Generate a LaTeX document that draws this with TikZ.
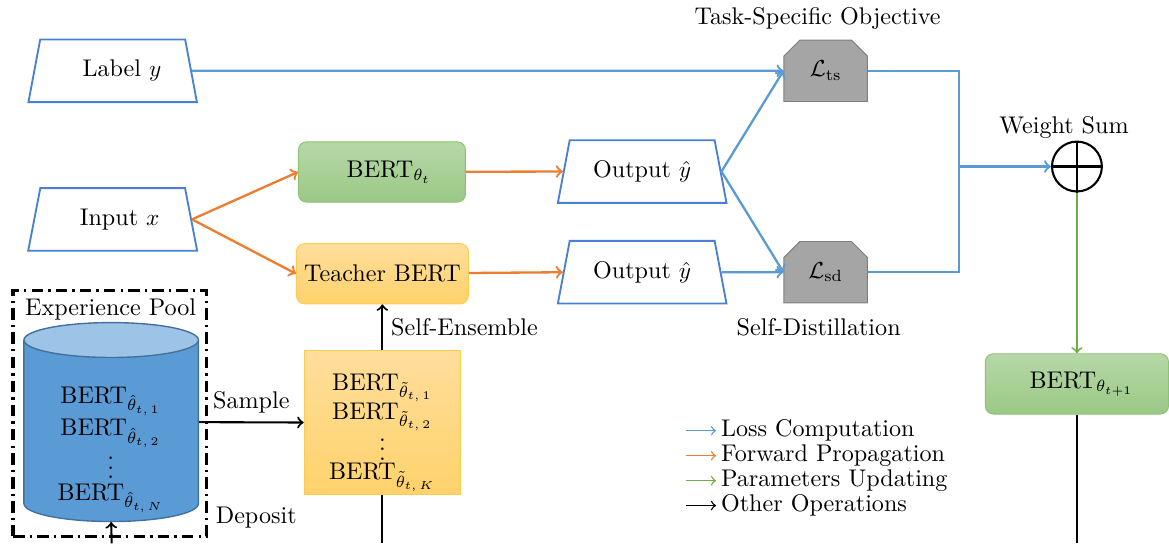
\documentclass[tikz,border=0pt]{standalone}
\usepackage{xcolor}
\usepackage{tikz}
\usetikzlibrary{shapes.geometric,shapes.misc}
\usetikzlibrary{arrows}

\definecolor{lossblue}{HTML}{5B9BD5}
\definecolor{fwdorange}{HTML}{ED7D31}
\definecolor{updgreen}{HTML}{70AD47}
\definecolor{trapblue}{HTML}{4A7FD6}
\definecolor{greentop}{HTML}{B6D8A7}
\definecolor{greenbot}{HTML}{9BC886}
\definecolor{greenedge}{HTML}{8DC173}
\definecolor{orangetop}{HTML}{FFDE9C}
\definecolor{orangebot}{HTML}{FFD26B}
\definecolor{orangeedge}{HTML}{FFCB4F}
\definecolor{lossgray}{HTML}{A5A5A5}
\definecolor{lossedge}{HTML}{7F7F7F}
\definecolor{poolbody}{HTML}{5B9BD5}
\definecolor{pooltop}{HTML}{9DC3E6}
\definecolor{pooledge}{HTML}{41719C}

\begin{document}
\begin{tikzpicture}[x=0.43pt,y=-0.43pt,font=\fontsize{10.4pt}{12.5pt}\selectfont]
            \tikzset{Data/.style={%
                    shape=trapezium,%
                    draw=trapblue,%
                    line width=0.8pt,%
                    trapezium left angle=76,%
                    trapezium right angle=76,%
                    trapezium stretches=true,%
                    minimum width=73pt,%
                    minimum height=27pt,%
                },
                Student/.style={%
                    shape=rectangle,%
                    rounded corners=3.5pt,%
                    draw=greenedge,%
                    top color=greentop,%
                    bottom color=greenbot,%
                    minimum width=72pt,%
                    minimum height=26pt,%
                },
                Teacher/.style={%
                    shape=rectangle,%
                    rounded corners=3.5pt,%
                    draw=orangeedge,%
                    top color=orangetop,%
                    bottom color=orangebot,%
                    minimum width=72pt,%
                    minimum height=26pt,%
                },
                Loss/.style={%
                    shape=chamfered rectangle,%
                    chamfered rectangle corners={north west,north east},%
                    chamfered rectangle xsep=4pt,%
                    draw=lossedge,%
                    fill=lossgray,%
                    minimum width=36pt,%
                    minimum height=26.5pt,%
                },
                LossArrow/.style={->,draw=lossblue,line width=1pt},
                FwdArrow/.style={->,draw=fwdorange,line width=1pt},
                UpdArrow/.style={->,draw=updgreen,line width=0.8pt},
                OtherArrow/.style={->,draw=black,line width=0.9pt},
                Legend/.style={anchor=west,inner sep=2pt},
            }

                % inputs and the two BERTs
                \node[Data] (labely) at (113,71) {\hspace{8pt}Label $y$};
                \node[Data] (inputx) at (113,220) {\hspace{6pt}Input $x$};
                \node[Student] (bert) at (383,172.5) {\hspace{6pt}BERT$_{\theta_t}$};
                \node[Teacher] (teacher) at (383.5,274.5) {Teacher BERT};
                \node[Data] (outA) at (644,172) {Output $\hat{y}$};
                \node[Data] (outB) at (644,273) {Output $\hat{y}$};

                % losses
                \node[Loss] (Lts) at (828,71) {$\mathcal{L}_{\mathrm{ts}}$};
                \node[Loss] (Lsd) at (828,273) {$\mathcal{L}_{\mathrm{sd}}$};
                \node (tsLabel) at (820,19) {Task-Specific Objective};
                \node (sdLabel) at (821,328) {Self-Distillation};

                % weight sum and update
                \node[circle,draw=black,line width=0.9pt,minimum size=21.5pt,inner sep=0pt] (sum) at (1080,167) {};
                \draw[line width=0.9pt] (sum.north) -- (sum.south) (sum.west) -- (sum.east);
                \node (sumLabel) at (1067,128) {Weight Sum};
                \node[Student,minimum width=79pt] (next) at (1080,385) {\hspace{4pt}BERT$_{\theta_{t+1}}$};
                \coordinate (join) at (962,167);
                \coordinate (nextOut) at (1080,545);

                % experience pool
                \node[rectangle,draw=black,line width=1.4pt,dash pattern=on 5pt off 2.2pt on 1pt off 2.2pt,
                      minimum width=83.4pt,minimum height=106.2pt] (frame) at (110,414.5) {};
                \node (poolLabel) at (111,310) {Experience Pool};
                \node[inner sep=0pt,minimum width=75.3pt,minimum height=86pt] (pool) at (111.5,423) {};
                \filldraw[fill=poolbody,draw=pooledge,line width=0.6pt] (24,341) -- (24,505)
                    arc[start angle=180,end angle=0,x radius=87.5,y radius=18] -- (199,341);
                \filldraw[fill=pooltop,draw=pooledge,line width=0.6pt] (111.5,341) ellipse[x radius=87.5,y radius=17.5];
                \node[align=center] (poolText) at (111,451) {BERT$_{\hat{\theta}_{t,\,1}}$\\[1.5pt]
                    BERT$_{\hat{\theta}_{t,\,2}}$\\[-3pt] $\vdots$\\[-3pt] BERT$_{\hat{\theta}_{t,\,N}}$};
                \node[rectangle,draw=orangeedge,top color=orangetop,bottom color=orangebot,
                      minimum width=67.5pt,minimum height=62pt] (ens) at (383.5,424) {};
                \node[align=center] (ensText) at (383.5,434) {BERT$_{\tilde{\theta}_{t,\,1}}$\\[0pt]
                    BERT$_{\tilde{\theta}_{t,\,2}}$\\[-3.5pt] $\vdots$\\[-4pt] BERT$_{\tilde{\theta}_{t,\,K}}$};
                \node (deposit) at (257,519) {Deposit};
                \coordinate (poolIn) at (112,545);
                \coordinate (ensOut) at (383.5,545);

                % connectors
                \path (inputx.east) edge[FwdArrow] (bert.west);
                \path (inputx.east) edge[FwdArrow] (teacher.west);
                \path (bert) edge[FwdArrow] (outA.west);
                \path (teacher) edge[FwdArrow] (outB.west);
                \path (labely) edge[LossArrow] (Lts.west);
                \path (outA.east) edge[LossArrow] (Lts.west);
                \path (outA.east) edge[LossArrow] (Lsd.west);
                \path (outB.east) edge[LossArrow] (Lsd.west);
                \draw[draw=lossblue,line width=1pt] (Lts.east) -| (join) |- (Lsd.east);
                \path (join) edge[LossArrow] (sum);
                \path (sum) edge[UpdArrow] (next);
                \draw[line width=0.9pt] (next) -- (nextOut);
                \path (pool) edge[OtherArrow] node[above,pos=0.5]{Sample} (ens);
                \path (ens) edge[OtherArrow] node[right]{Self-Ensemble} (teacher);
                \draw[line width=0.9pt] (ens) -- (ensOut);
                \path (poolIn) edge[OtherArrow] (pool.south);

                % legend
                \node[Legend] (lgLoss) at (718,432) {Loss Computation};
                \node[Legend] (lgFwd) at (718,457) {Forward Propagation};
                \node[Legend] (lgUpd) at (718,482) {Parameters Updating};
                \node[Legend] (lgOther) at (718,507) {Other Operations};
                \draw[->,draw=lossblue,line width=0.6pt] ([xshift=-13pt]lgLoss.west) -- (lgLoss.west);
                \draw[->,draw=fwdorange,line width=0.6pt] ([xshift=-13pt]lgFwd.west) -- (lgFwd.west);
                \draw[->,draw=updgreen,line width=0.6pt] ([xshift=-13pt]lgUpd.west) -- (lgUpd.west);
                \draw[->,draw=black,line width=0.6pt] ([xshift=-13pt]lgOther.west) -- (lgOther.west);

                \useasboundingbox (0,0) rectangle (1169,545);
        \end{tikzpicture}
\end{document}
